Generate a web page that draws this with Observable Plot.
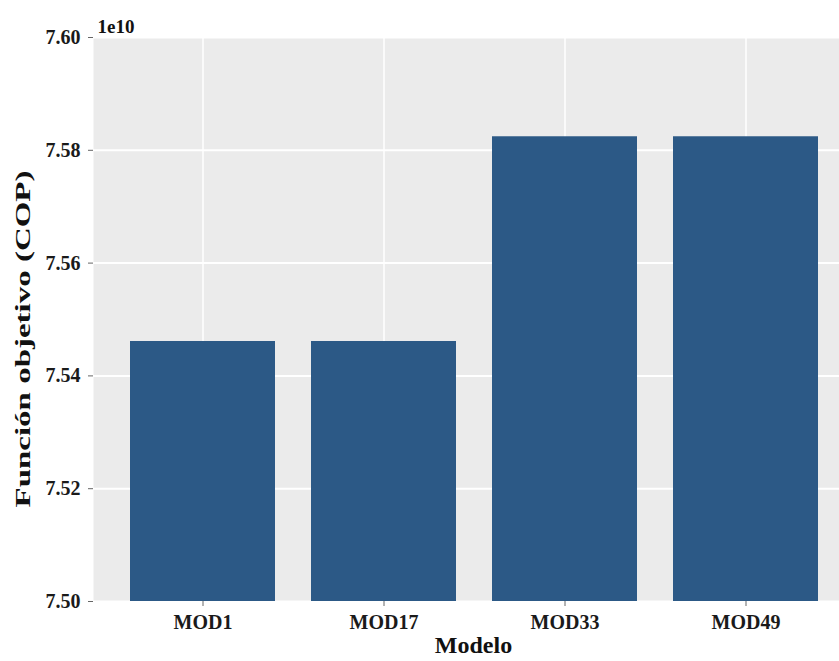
<!DOCTYPE html>
<html><head><meta charset="utf-8">
<script src="https://cdn.jsdelivr.net/npm/d3@7"></script>
<script src="https://cdn.jsdelivr.net/npm/@observablehq/plot@0.6"></script>
<style>body{margin:0;background:#fff} svg{display:block}</style>
</head><body><div id="chart"></div>
<script>
const models = ["MOD1", "MOD17", "MOD33", "MOD49"];
const values = [75461000000, 75461000000, 75824000000, 75824000000];
const yTicks = [75000000000, 75200000000, 75400000000, 75600000000, 75800000000, 76000000000];
const yDomain = [75000000000, 76000000000];
const xTitle = "Modelo";
const yTitle = "Función objetivo (COP)";
const expLabel = "1e10";

const data = models.map((m, i) => ({model: m, value: values[i]}));
const font = "'Liberation Serif', 'Times New Roman', serif";

const chart = Plot.plot({
  width: 839,
  height: 661,
  marginLeft: 93,
  marginRight: 0,
  marginTop: 37,
  marginBottom: 60,
  style: {fontFamily: font, fontWeight: "bold", background: "#fff", color: "#1a1a1a"},
  x: {type: "band", domain: models, range: [93, 855], paddingInner: 0.2, paddingOuter: 0.2},
  y: {domain: yDomain},
  marks: [
    Plot.frame({fill: "#ebebeb", stroke: null}),
    Plot.ruleY(yTicks, {stroke: "#ffffff", strokeWidth: 2}),
    Plot.gridX({stroke: "#ffffff", strokeOpacity: 1, strokeWidth: 1.5}),
    Plot.barY(data, {x: "model", y1: () => yDomain[0], y2: "value", fill: "#2c5986"}),
    Plot.axisY({ticks: yTicks, tickFormat: d => (d / 1e10).toFixed(2), tickSize: 5, tickPadding: 8,
      fontSize: 20, stroke: "#666", label: null}),
    Plot.axisX({tickSize: 5, tickPadding: 8, fontSize: 20, stroke: "#666", label: null}),
    Plot.text([yTitle], {frameAnchor: "left", text: d => d, rotate: -90, textAnchor: "start", dx: -71, dy: 188,
      fontSize: 22, fontWeight: "bold", fill: "#111"}),
    Plot.text([xTitle], {frameAnchor: "bottom", text: d => d, dx: 7, dy: 51,
      fontSize: 24, fontWeight: "bold", fill: "#111"}),
    Plot.text([expLabel], {frameAnchor: "top-left", text: d => d, textAnchor: "start", dx: 4, dy: -18,
      fontSize: 19, fontWeight: "bold", fill: "#111"})
  ]
});
document.getElementById("chart").appendChild(chart);
d3.select(chart).selectAll("text")
  .filter(function() { return this.textContent === yTitle; })
  .attr("textLength", 337).attr("lengthAdjust", "spacingAndGlyphs");
</script>
</body></html>
